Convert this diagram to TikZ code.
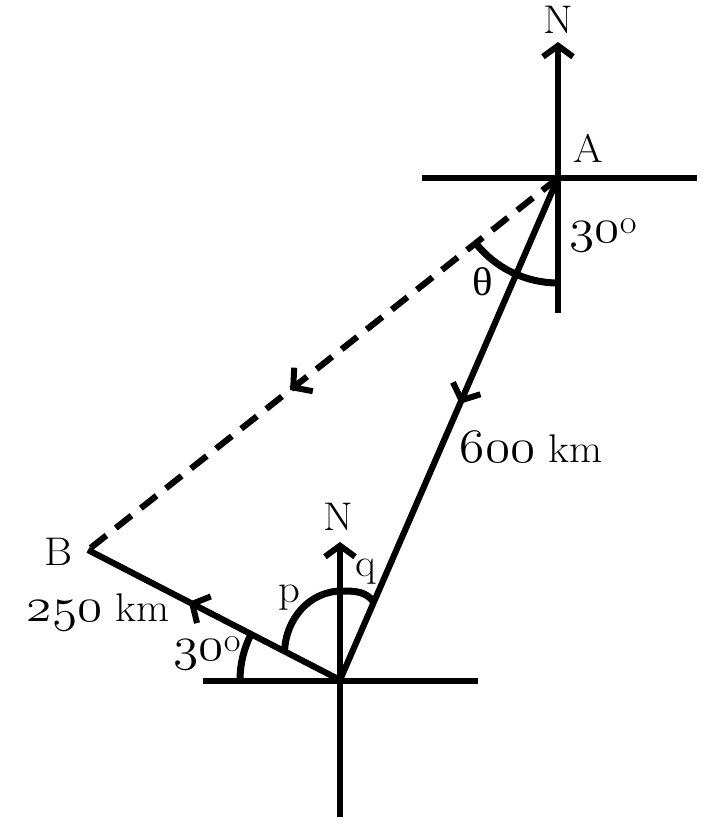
\RequirePackage{fix-cm}
\documentclass[tikz,border=0pt]{standalone}
\usepackage{fontspec}
\newfontfamily\grkfont{Liberation Serif}
\usetikzlibrary{arrows.meta,decorations.markings,calc}
\newcommand\osnum[1]{{\fontsize{48}{56}\usefont{OML}{cmm}{m}{it}#1}}
\newcommand\wide[1]{\scalebox{1.07}[1]{#1}}
\newcommand\dg{\raisebox{0.5ex}{\fontsize{34}{38}\selectfont o}}
\tikzset{
  thick line/.style={line width=6.2pt},
  arcline/.style={line width=7pt},
  lbl/.style={inner sep=0pt,font=\fontsize{40}{46}\selectfont},
  midarrow/.style={postaction={decorate,decoration={markings,
      mark=at position #1 with {\arrow{Straight Barb[length=13pt,width=30pt,line width=6pt]}}}}},
  northtip/.style={-{Straight Barb[length=11pt,width=30pt,line width=6pt]}}
}
\begin{document}
\begin{tikzpicture}[x=1pt,y=1pt]
\useasboundingbox (0,0) rectangle (720,832);
% points
\coordinate (A) at (558,654);
\coordinate (O) at (340,152);
\coordinate (B) at (88,282);
\coordinate (AW) at (422,654);
\coordinate (AE) at (697,654);
\coordinate (AS) at (558,519);
\coordinate (AN) at (558,790);
\coordinate (OW) at (203,151);
\coordinate (OE) at (478,151);
\coordinate (OS) at (340,15);
\coordinate (ON) at (340,290);
% axes
\draw[thick line] (AW) -- (AE);
\draw[thick line] (A) -- (AS);
\draw[thick line,northtip] (A) -- (AN);
\draw[thick line] (OW) -- (OE);
\draw[thick line] (O) -- (OS);
\draw[thick line,northtip] (O) -- (ON);
% paths
\draw[thick line,midarrow=0.45] (A) -- (O);
\draw[thick line,dash pattern=on 20pt off 12pt,midarrow=0.57] (A) -- (B);
\draw[thick line,midarrow=0.6] (O) -- (B);
% arcs
\draw[arcline] ($(A)+(218.4:105)$) arc[start angle=218.4,end angle=270,radius=105];
\draw[arcline] ($(O)+(180:100)$) arc[start angle=180,end angle=152.7,radius=100];
\coordinate (P1) at ($(O)!0.22!(B)$);
\coordinate (P2) at ($(O)!0.155!(A)$);
\coordinate (PT) at (342,241);
\draw[arcline] (P1) to[out=88,in=180] (PT) to[out=0,in=125] (P2);
% labels
\node[lbl] (nA) at (558,812) {\wide{N}};
\node[lbl] (lA) at (588,684) {\wide{A}};
\node[lbl] (a30) at (603,597) {\wide{\osnum{30}\dg}};
\node[lbl] (th) at (483,550) {\wide{\grkfont θ}};
\node[lbl] (d600) at (531,385) {\wide{\osnum{600} km}};
\node[lbl] (lB) at (58,280) {\wide{B}};
\node[lbl] (d250) at (98,220) {\wide{\osnum{250} km}};
\node[lbl] (o30) at (207,179) {\wide{\osnum{30}\dg}};
\node[lbl] (lp) at (289,234) {\wide{p}};
\node[lbl] (lq) at (366,260) {\wide{q}};
\node[lbl] (nO) at (338,315) {\wide{N}};
\end{tikzpicture}
\end{document}
